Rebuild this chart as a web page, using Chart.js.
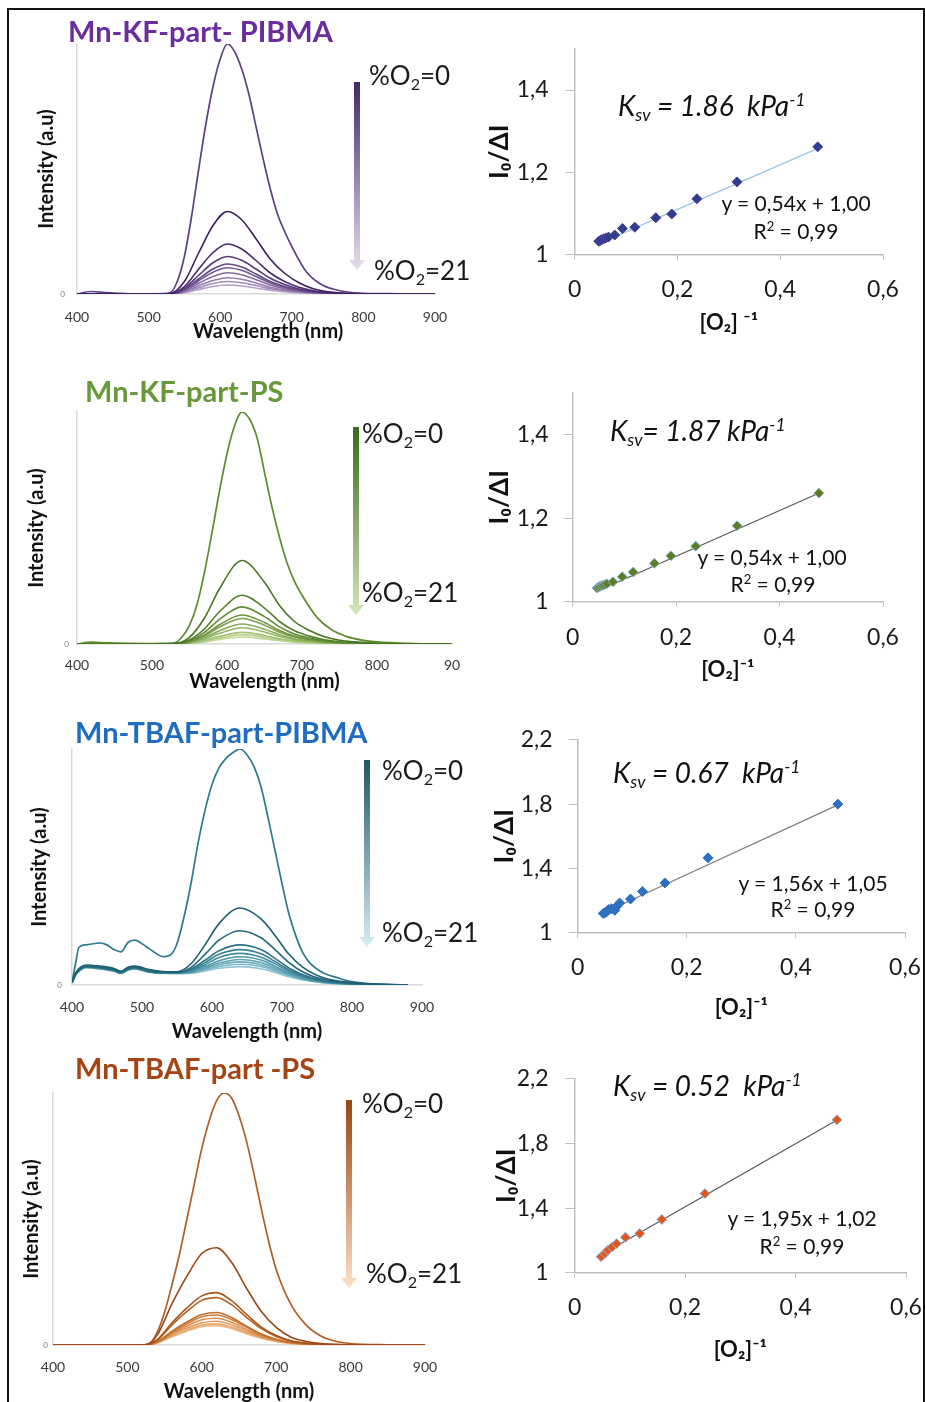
<!DOCTYPE html>
<html>
<head>
<meta charset="utf-8">
<title>O2 quenching of Mn particles</title>
<script src="https://cdn.jsdelivr.net/npm/chart.js@4.4.1/dist/chart.umd.min.js"></script>
<style>
  body { margin: 0; background: #fff; }
  #page { position: relative; width: 925px; height: 1402px; overflow: hidden; font-family: Lato, "Noto Sans", sans-serif; color: #111; }
  #frame { position: absolute; left: 7px; top: 8px; width: 914px; height: 1420px; border: 2px solid #111; }
  canvas { position: absolute; }
  .t { position: absolute; white-space: nowrap; line-height: 1; transform: translateY(-50%); }
  .panel-title { font-weight: bold; font-size: 29px; }
  .o2 { font-size: 26px; color: #1a1a1a; }
  .ksv { font-style: italic; font-size: 28px; }
  .eq { font-size: 21px; transform: translate(-50%, -50%); }
  sub { font-size: 0.62em; vertical-align: -0.3em; line-height: 0; }
  sup { font-size: 0.62em; vertical-align: 0.55em; line-height: 0; }
  .arrow { position: absolute; width: 16px; clip-path: polygon(5px 0, 11px 0, 11px calc(100% - 10px), 16px calc(100% - 10px), 8px 100%, 0 calc(100% - 10px), 5px calc(100% - 10px)); }
</style>
</head>
<body>
<div id="page">
  <div id="frame"></div>

  <canvas id="s1"></canvas>
  <canvas id="s2"></canvas>
  <canvas id="s3"></canvas>
  <canvas id="s4"></canvas>
  <canvas id="r1"></canvas>
  <canvas id="r2"></canvas>
  <canvas id="r3"></canvas>
  <canvas id="r4"></canvas>

  <div class="t panel-title" style="left:68px;top:30px;color:#6b2c9c">Mn-KF-part- PIBMA</div>
  <div class="t panel-title" style="left:85px;top:390px;color:#67983a">Mn-KF-part-PS</div>
  <div class="t panel-title" style="left:75px;top:731px;color:#1f6cc0">Mn-TBAF-part-PIBMA</div>
  <div class="t panel-title" style="left:75px;top:1067px;color:#a54414">Mn-TBAF-part -PS</div>

  <div class="arrow" style="left:349px;top:82px;height:188px;background:linear-gradient(#46286a,#e6deef)"></div>
  <div class="arrow" style="left:348px;top:427px;height:188px;background:linear-gradient(#3b6a1c,#d3e8b6)"></div>
  <div class="arrow" style="left:359px;top:760px;height:187px;background:linear-gradient(#1d5868,#d5eef5)"></div>
  <div class="arrow" style="left:341px;top:1100px;height:188px;background:linear-gradient(#9a4510,#fde0c8)"></div>

  <div class="t o2" style="left:369px;top:75px">%O<sub>2</sub>=0</div>
  <div class="t o2" style="left:374px;top:270px">%O<sub>2</sub>=21</div>
  <div class="t o2" style="left:362px;top:433px">%O<sub>2</sub>=0</div>
  <div class="t o2" style="left:362px;top:592px">%O<sub>2</sub>=21</div>
  <div class="t o2" style="left:382px;top:770px">%O<sub>2</sub>=0</div>
  <div class="t o2" style="left:382px;top:932px">%O<sub>2</sub>=21</div>
  <div class="t o2" style="left:362px;top:1103px">%O<sub>2</sub>=0</div>
  <div class="t o2" style="left:366px;top:1273px">%O<sub>2</sub>=21</div>

  <div class="t ksv" style="left:618px;top:105px">K<sub>sv</sub> = 1.86&nbsp; kPa<sup>-1</sup></div>
  <div class="t ksv" style="left:610px;top:430px">K<sub>sv</sub>= 1.87 kPa<sup>-1</sup></div>
  <div class="t ksv" style="left:613px;top:772px">K<sub>sv</sub> = 0.67&nbsp; kPa<sup>-1</sup></div>
  <div class="t ksv" style="left:613px;top:1085px">K<sub>sv</sub> = 0.52&nbsp; kPa<sup>-1</sup></div>

  <div class="t eq" style="left:796px;top:202px">y = 0,54x + 1,00</div>
  <div class="t eq" style="left:796px;top:230px">R<sup>2</sup> = 0,99</div>
  <div class="t eq" style="left:772px;top:556px">y = 0,54x + 1,00</div>
  <div class="t eq" style="left:773px;top:583px">R<sup>2</sup> = 0,99</div>
  <div class="t eq" style="left:813px;top:882px">y = 1,56x + 1,05</div>
  <div class="t eq" style="left:813px;top:908px">R<sup>2</sup> = 0,99</div>
  <div class="t eq" style="left:802px;top:1217px">y = 1,95x + 1,02</div>
  <div class="t eq" style="left:802px;top:1245px">R<sup>2</sup> = 0,99</div>
</div>

<script>
// ---- emission spectra (intensity in % of the O2-free maximum) ----

// Mn-KF-part-PIBMA
const wl1 = [400,420,440,500,520,530,540,550,560,570,580,590,600,610,620,630,640,650,660,670,680,690,700,720,740,760,780,800,850,900];
const top1 = [0,1,0.6,0,0.2,0.5,5,15,31,50,68,83,94,100,97,90,80,67,54,42,32,25,19,9,4,1.8,0.7,0.3,0.1,0];
const wlLow1 = [400,500,530,550,570,590,610,630,650,670,690,710,730,750,770,800,850,900];
const low1 = [
  [0,0,0.2,5,16.5,27.4,33,29.7,22.1,13.9,8.3,4.5,2.1,0.9,0.4,0.1,0,0],
  [0,0,0.1,3,10,16.6,20,18,13.4,8.4,5,2.7,1.3,0.6,0.2,0.1,0,0],
  [0,0,0,2.3,7.5,12.5,15,13.5,10,6.3,3.8,2,0.9,0.4,0.2,0,0,0],
  [0,0,0,1.8,6,10,12,10.8,8,5,3,1.6,0.8,0.3,0.1,0,0,0],
  [0,0,0,1.6,5.3,8.7,10.5,9.5,7,4.4,2.6,1.4,0.7,0.3,0.1,0,0,0],
  [0,0,0,1.3,4.3,7,8.5,7.7,5.7,3.6,2.1,1.1,0.5,0.2,0.1,0,0,0],
  [0,0,0,1,3.3,5.4,6.5,5.9,4.4,2.7,1.6,0.9,0.4,0.2,0,0,0,0],
  [0,0,0,0.8,2.5,4.2,5,4.5,3.4,2.1,1.3,0.7,0.3,0.1,0,0,0,0],
  [0,0,0,0.5,1.8,3,3.6,3.2,2.4,1.5,0.9,0.5,0.2,0.1,0,0,0,0]
];

// Mn-KF-part-PS
const wl2 = [400,420,440,500,520,530,540,550,560,570,580,590,600,610,620,630,640,650,660,670,680,690,700,720,740,760,780,800,850,900];
const top2 = [0,0.8,0.5,0.2,0.3,0.5,3,8,17,31,48,66,82,94,100,97,89,74,59,46,35,27,21,11.5,6,3.2,1.7,0.9,0.2,0];
const wlLow2 = [400,500,530,550,570,590,620,650,670,690,710,730,750,770,800,850,900];
const low2 = [
  [0,0,0.2,2.9,11.2,23.8,36,26.6,16.6,9.7,5.8,3.1,1.6,0.9,0.3,0.1,0],
  [0,0,0.1,1.7,6.5,13.9,21,15.5,9.7,5.7,3.4,1.8,0.9,0.5,0.2,0,0],
  [0,0,0.1,1.3,5,10.6,16,11.8,7.4,4.3,2.6,1.4,0.7,0.4,0.1,0,0],
  [0,0,0,1,3.9,8.3,12.5,9.3,5.8,3.4,2,1.1,0.6,0.3,0.1,0,0],
  [0,0,0,0.9,3.4,7.3,11,8.1,5.1,3,1.8,0.9,0.5,0.3,0.1,0,0],
  [0,0,0,0.7,2.7,5.7,8.6,6.4,4,2.3,1.4,0.7,0.4,0.2,0.1,0,0],
  [0,0,0,0.6,2.2,4.6,7,5.2,3.2,1.9,1.1,0.6,0.3,0.2,0,0,0],
  [0,0,0,0.4,1.6,3.3,5,3.7,2.3,1.4,0.8,0.4,0.2,0.1,0,0,0],
  [0,0,0,0.3,1.2,2.6,4,3,1.8,1.1,0.6,0.3,0.2,0.1,0,0,0],
  [0,0,0,0.2,0.9,2,3,2.2,1.4,0.8,0.5,0.3,0.1,0,0,0,0]
];

// Mn-TBAF-part-PIBMA
const wl3 = [400,405,410,420,440,450,460,470,480,490,500,510,520,530,540,550,560,570,580,590,600,610,620,630,640,650,660,670,680,690,700,710,720,730,740,760,780,800,820,850,880];
const top3 = [1,9,16,17,17.8,17,15,14,18,19,17.5,15.5,13.4,12,12.6,17.5,28.8,43,60,74,85,92,96,98.5,100,97.6,92.5,84,71,57,43,30,20.6,13.5,9.3,5,3,1.4,0.7,0.3,0];
const wlLow3 = [400,405,410,420,440,460,470,480,490,510,530,550,570,590,610,640,670,690,710,730,760,800,840,880];
const low3 = [
  [1,5,7,8.5,8,7,5.8,7.5,8,6.5,5.7,5.6,9,17,26,32.6,28,21,13,7.5,3,1,0.3,0],
  [1,4.8,6.5,8,7.5,6.5,5.5,7,7.5,6,5.5,5.4,7.5,13,19,23,20,15,9.5,5.5,2.3,0.8,0.2,0],
  [1,4.5,6.3,7.8,7.3,6.3,5.3,6.8,7.3,5.8,5.3,5.3,6.8,10.5,14.5,17,15,11.3,7.2,4.3,1.8,0.6,0.2,0],
  [1,4.5,6.2,7.7,7.2,6.2,5.2,6.7,7.2,5.7,5.2,5.2,6.4,9.5,13,15,13.2,10,6.4,3.8,1.6,0.5,0.2,0],
  [1,4.4,6.1,7.6,7.1,6.1,5.1,6.6,7.1,5.6,5.1,5.1,6,8.6,11.7,13.4,11.8,9,5.8,3.4,1.4,0.5,0.1,0],
  [1,4.3,6,7.5,7,6,5,6.5,7,5.6,5.1,5,5.6,7.8,10.3,12,10.6,8,5.2,3,1.3,0.4,0.1,0],
  [1,4.3,6,7.5,7,6,5,6.5,7,5.6,5.1,5,5.4,7.2,9.3,10.8,9.5,7.2,4.7,2.7,1.2,0.4,0.1,0],
  [1,4.2,5.9,7.4,6.9,5.9,5,6.4,6.9,5.5,5,5,5.3,6.8,8.6,9.8,8.6,6.5,4.3,2.5,1.1,0.4,0.1,0],
  [1,4.2,5.9,7.4,6.9,5.9,4.9,6.4,6.9,5.5,5,4.9,5.1,6.3,7.8,8.8,7.8,5.9,3.9,2.3,1,0.3,0.1,0],
  [1,4.1,5.8,7.3,6.8,5.8,4.9,6.3,6.8,5.4,4.9,4.9,5,5.9,7.1,7.8,6.9,5.3,3.5,2.1,0.9,0.3,0.1,0]
];

// Mn-TBAF-part-PS
const wl4 = [400,450,500,520,530,540,550,560,570,580,590,600,610,620,630,640,650,660,670,680,690,700,720,740,760,780,800,850,900];
const top4 = [0,0,0,0,0.5,5,13,24,36,50,64,78,89,97,100,98,91,81,68,54,41,30,16,8,3.6,1.5,0.6,0.1,0];
const wlLow4 = [400,500,525,540,560,580,600,620,640,660,680,700,720,740,760,800,850,900];
const low4 = [
  [0,0,0.2,3.9,16.4,27.3,36.3,38.6,32.8,22.6,13.3,7,3.1,1.4,0.6,0.1,0,0],
  [0,0,0.1,2.1,8.8,14.7,19.5,20.8,17.6,12.2,7.1,3.8,1.7,0.7,0.3,0.1,0,0],
  [0,0,0.1,1.9,8,13.3,17.7,18.8,16,11,6.5,3.4,1.5,0.7,0.3,0.1,0,0],
  [0,0,0.1,1.3,5.5,9.1,12.1,12.9,10.9,7.5,4.4,2.3,1,0.5,0.2,0,0,0],
  [0,0,0.1,1.2,5,8.4,11.2,11.9,10.1,7,4.1,2.2,1,0.4,0.2,0,0,0],
  [0,0,0,1.1,4.5,7.5,10,10.6,9,6.2,3.6,1.9,0.9,0.4,0.2,0,0,0],
  [0,0,0,1,4,6.7,8.8,9.4,8,5.5,3.2,1.7,0.8,0.3,0.1,0,0,0],
  [0,0,0,0.9,3.6,6,7.9,8.4,7.1,4.9,2.9,1.5,0.7,0.3,0.1,0,0,0],
  [0,0,0,0.8,3.3,5.5,7.3,7.7,6.6,4.5,2.7,1.4,0.6,0.3,0.1,0,0,0]
];

// ---- Stern-Volmer plots ----
const sv1X = [0.047,0.050,0.053,0.057,0.061,0.066,0.078,0.093,0.117,0.158,0.189,0.238,0.316,0.473];
const sv1Y = [1.033,1.035,1.037,1.039,1.041,1.043,1.048,1.064,1.067,1.090,1.099,1.136,1.177,1.262];
const fit1X = [0.045,0.48];
const fit1Y = [1.026,1.262];

const sv2X = [0.047,0.050,0.053,0.057,0.061,0.066,0.078,0.096,0.117,0.158,0.190,0.238,0.318,0.476];
const sv2Y = [1.033,1.035,1.037,1.039,1.041,1.043,1.048,1.060,1.071,1.092,1.110,1.133,1.182,1.260];
const fit2X = [0.045,0.48];
const fit2Y = [1.024,1.262];

const sv3X = [0.047,0.050,0.053,0.057,0.062,0.068,0.072,0.077,0.097,0.119,0.160,0.239,0.477];
const sv3Y = [1.12,1.125,1.13,1.145,1.15,1.14,1.165,1.185,1.21,1.257,1.31,1.466,1.80];
const fit3X = [0.045,0.48];
const fit3Y = [1.12,1.80];

const sv4X = [0.048,0.055,0.060,0.068,0.076,0.092,0.118,0.158,0.236,0.475];
const sv4Y = [1.10,1.12,1.14,1.16,1.18,1.22,1.243,1.33,1.49,1.946];
const fit4X = [0.045,0.48];
const fit4Y = [1.105,1.955];

// line colours, O2-free curve first
const col1 = ['#5e4085','#3e1f5f','#4b2c6e','#58397a','#664886','#755893','#8469a0','#937aad','#a38cba','#b39fc8'];
const col2 = ['#5f8a30','#4a7420','#55802a','#618b35','#6e9641','#7ba14e','#88ac5b','#96b769','#a4c277','#b2cd86','#c0d895'];
const col3 = ['#2b7a8e','#1d5e70','#24697c','#2d7487','#377f92','#438a9c','#5096a7','#5fa2b2','#6faebd','#80bac8','#92c6d3','#a5d2de'];
const col4 = ['#b05e24','#9a4712','#a8551a','#b56222','#c2702e','#cd7e3c','#d78c4c','#e09b5e','#e8aa71','#efba86'];

const FONT = 'Lato, "Noto Sans", sans-serif';

function toPoints(xs, ys) {
  return xs.map((x, i) => ({ x: x, y: ys[i] }));
}

// size the canvas so that the chart area lands on the given page box
function place(canvas, area, W, H) {
  const pad = { left: 8, top: 22, right: 34, bottom: 8 };
  const left = area.l - W - pad.left;
  const top = area.t - pad.top;
  canvas.width = Math.round(area.r + pad.right - left);
  canvas.height = Math.round(area.b + H + pad.bottom - top);
  canvas.style.left = left + 'px';
  canvas.style.top = top + 'px';
  return pad;
}

function spectraChart(p) {
  const canvas = document.getElementById(p.id);
  const yLH = p.yTitleSize * 1.2, xLH = p.xTitleSize * 1.2, tickLH = 14 * 1.2;
  const W = p.area.l - (p.yTitleX - yLH / 2);
  const H = p.xTitleY + xLH / 2 - p.area.b;
  const pad = place(canvas, p.area, W, H);

  const datasets = [];
  p.low.forEach((vals, i) => {
    datasets.push({
      data: toPoints(p.wlLow, vals), borderColor: p.colors[i + 1], borderWidth: 1.6,
      pointRadius: 0, cubicInterpolationMode: 'monotone', fill: false
    });
  });
  datasets.push({
    data: toPoints(p.wl, p.top), borderColor: p.colors[0], borderWidth: 1.7,
    pointRadius: 0, cubicInterpolationMode: 'monotone', fill: false
  });

  new Chart(canvas.getContext('2d'), {
    type: 'line',
    data: { datasets: datasets },
    options: {
      responsive: false, animation: false, events: [],
      layout: { padding: pad },
      plugins: { legend: { display: false }, tooltip: { enabled: false } },
      scales: {
        x: {
          type: 'linear', min: 400, max: 900,
          afterFit: s => { s.height = H; },
          grid: { display: false, drawTicks: false },
          border: { color: '#d9d9d9', width: 1.5 },
          ticks: {
            stepSize: 100, autoSkip: false, maxRotation: 0, color: '#3a3a3a',
            font: { family: FONT, size: 14 },
            padding: p.xTickY - p.area.b - tickLH / 2,
            callback: p.xLabel
          },
          title: { display: true, text: p.xTitle, color: '#111', padding: 0,
                   font: { family: FONT, size: p.xTitleSize, weight: 'bold' } }
        },
        y: {
          min: 0, max: 100,
          afterFit: s => { s.width = W; },
          grid: { display: false, drawTicks: false },
          border: { color: '#d9d9d9', width: 1.5 },
          ticks: { stepSize: 100, color: '#777', font: { family: FONT, size: 8 },
                   padding: p.zeroPad, callback: v => (v === 0 ? '0' : '') },
          title: { display: true, text: 'Intensity (a.u)', color: '#111', padding: 0,
                   font: { family: FONT, size: p.yTitleSize, weight: 'bold' } }
        }
      }
    }
  });
}

function commaTick(v) {
  if (Math.abs(v) < 1e-9) return '0';
  if (Math.abs(v - 1) < 1e-9) return '1';
  return v.toFixed(1).replace('.', ',');
}

function svChart(p) {
  const canvas = document.getElementById(p.id);
  const yLH = 26 * 1.2, xLH = 22 * 1.2, tickLH = 23 * 1.2;
  const W = p.area.l - (p.yTitleX - yLH / 2);
  const H = p.xTitleY + xLH / 2 - p.area.b;
  const pad = place(canvas, p.area, W, H);

  new Chart(canvas.getContext('2d'), {
    type: 'scatter',
    data: {
      datasets: [
        { data: toPoints(p.x, p.y), pointStyle: 'rectRot', pointRadius: 5,
          backgroundColor: p.fill, borderColor: p.edge, borderWidth: 1 },
        { data: toPoints(p.fx, p.fy), showLine: true, pointRadius: 0,
          borderColor: p.lineCol, borderWidth: 1.2 }
      ]
    },
    options: {
      responsive: false, animation: false, events: [],
      layout: { padding: pad },
      plugins: { legend: { display: false }, tooltip: { enabled: false } },
      scales: {
        x: {
          type: 'linear', min: 0, max: 0.6,
          afterFit: s => { s.height = H; },
          grid: { display: true, drawOnChartArea: false, tickLength: 5, color: '#bfbfbf' },
          border: { color: '#bfbfbf', width: 1.5 },
          ticks: { stepSize: 0.2, autoSkip: false, maxRotation: 0, color: '#1a1a1a',
                   font: { family: FONT, size: 23 }, padding: p.xTickY - p.area.b - 5 - tickLH / 2,
                   callback: commaTick },
          title: { display: true, text: p.xTitle, color: '#111', padding: 0,
                   font: { family: FONT, size: 22, weight: 'bold' } }
        },
        y: {
          min: 1, max: p.ymax,
          afterFit: s => { s.width = W; },
          grid: { display: true, drawOnChartArea: false, tickLength: 9, color: '#bfbfbf' },
          border: { color: '#bfbfbf', width: 1.5 },
          ticks: { stepSize: p.step, includeBounds: false, color: '#1a1a1a',
                   font: { family: FONT, size: 23 }, padding: p.yTickPad, callback: commaTick },
          title: { display: true, text: 'I₀/ΔI', color: '#111', padding: 0,
                   font: { family: FONT, size: 26, weight: 'bold' } }
        }
      }
    }
  });
}

spectraChart({ id: 's1', wl: wl1, top: top1, wlLow: wlLow1, low: low1, colors: col1,
  area: { l: 77, r: 435, t: 44, b: 294 }, yTitleX: 47, xTitleY: 332, xTickY: 317,
  yTitleSize: 20, xTitleSize: 20, zeroPad: 12, xTitle: '     Wavelength (nm)', xLabel: v => String(v) });
spectraChart({ id: 's2', wl: wl2, top: top2, wlLow: wlLow2, low: low2, colors: col2,
  area: { l: 77, r: 452, t: 412, b: 644 }, yTitleX: 37, xTitleY: 682, xTickY: 665,
  yTitleSize: 20, xTitleSize: 20, zeroPad: 8, xTitle: 'Wavelength (nm)', xLabel: v => (v === 900 ? '90' : String(v)) });
spectraChart({ id: 's3', wl: wl3, top: top3, wlLow: wlLow3, low: low3, colors: col3,
  area: { l: 72, r: 422, t: 749, b: 985 }, yTitleX: 40, xTitleY: 1032, xTickY: 1007,
  yTitleSize: 20, xTitleSize: 20, zeroPad: 10, xTitle: 'Wavelength (nm)', xLabel: v => String(v) });
spectraChart({ id: 's4', wl: wl4, top: top4, wlLow: wlLow4, low: low4, colors: col4,
  area: { l: 53, r: 425, t: 1093, b: 1345 }, yTitleX: 32, xTitleY: 1392, xTickY: 1367,
  yTitleSize: 20, xTitleSize: 20, zeroPad: 5, xTitle: 'Wavelength (nm)', xLabel: v => String(v) });

svChart({ id: 'r1', x: sv1X, y: sv1Y, fx: fit1X, fy: fit1Y, ymax: 1.5, step: 0.2,
  area: { l: 575, r: 883, t: 40, b: 255 }, yTitleX: 500, xTitleY: 323, xTickY: 290, yTickPad: 17,
  xTitle: '[O₂] ⁻¹', fill: '#2e3d8c', edge: '#4b3f9c', lineCol: '#9dc3e6' });
svChart({ id: 'r2', x: sv2X, y: sv2Y, fx: fit2X, fy: fit2Y, ymax: 1.5, step: 0.2,
  area: { l: 573, r: 883, t: 386, b: 602 }, yTitleX: 500, xTitleY: 670, xTickY: 638, yTickPad: 15,
  xTitle: '[O₂]⁻¹', fill: '#5e7d1f', edge: '#86b4e3', lineCol: '#595959' });
svChart({ id: 'r3', x: sv3X, y: sv3Y, fx: fit3X, fy: fit3Y, ymax: 2.2, step: 0.4,
  area: { l: 578, r: 905, t: 732, b: 933 }, yTitleX: 505, xTitleY: 1008, xTickY: 968, yTickPad: 16,
  xTitle: '[O₂]⁻¹', fill: '#2f70c0', edge: '#2f70c0', lineCol: '#7f7f7f' });
svChart({ id: 'r4', x: sv4X, y: sv4Y, fx: fit4X, fy: fit4Y, ymax: 2.2, step: 0.4,
  area: { l: 575, r: 906, t: 1070, b: 1273 }, yTitleX: 507, xTitleY: 1350, xTickY: 1308, yTickPad: 17,
  xTitle: '[O₂]⁻¹', fill: '#e2561c', edge: '#86b9e8', lineCol: '#595959' });
</script>
</body>
</html>
